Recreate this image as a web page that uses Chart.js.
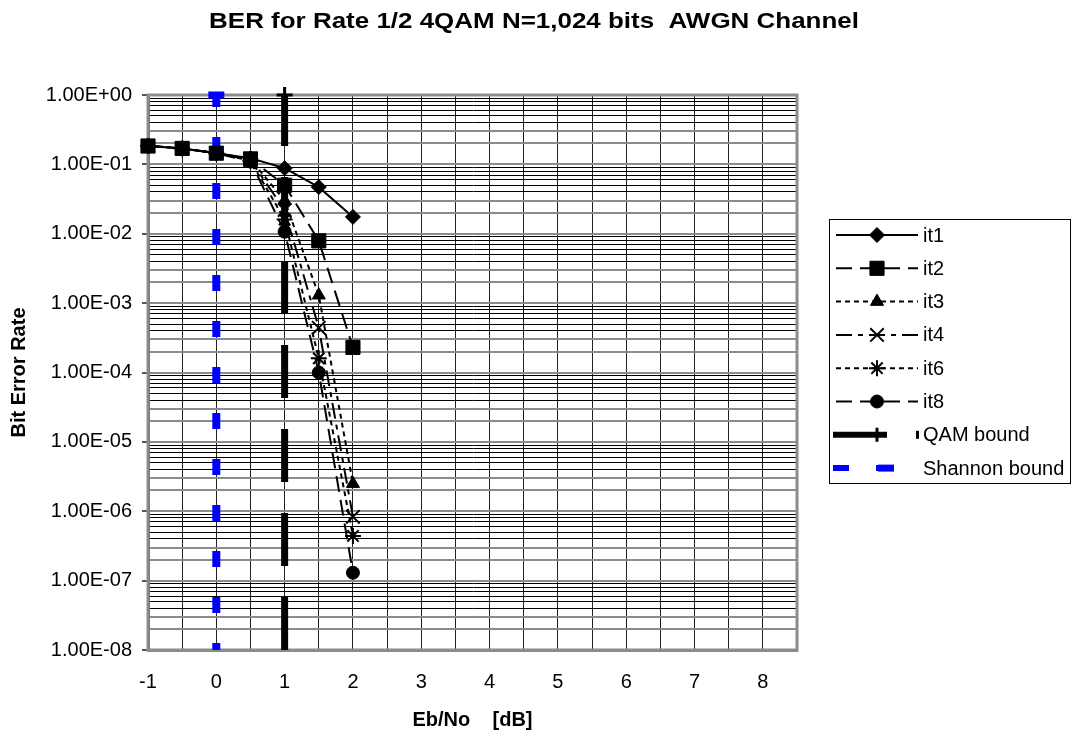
<!DOCTYPE html>
<html>
<head>
<meta charset="utf-8">
<script src="https://cdn.jsdelivr.net/npm/chart.js@4"></script>
<style>
  body { margin: 0; background: #fff; }
</style>
</head>
<body>
<canvas id="berChart" width="1072" height="732"></canvas>
<script>
// Eb/No points in dB
const ebno = [-1, -0.5, 0, 0.5, 1, 1.5, 2];

// BER per decoder iteration
const it1 = [0.184, 0.17, 0.145, 0.123, 0.088, 0.047, 0.0175];
const it2 = [0.184, 0.17, 0.145, 0.12, 0.05, 0.0079, 2.3e-4];
const it3 = [0.184, 0.17, 0.145, 0.118, 0.03, 1.3e-3, 2.5e-6];
const it4 = [0.184, 0.17, 0.145, 0.115, 0.022, 4.4e-4, 8.3e-7];
const it6 = [0.184, 0.17, 0.145, 0.113, 0.016, 1.6e-4, 4.4e-7];
const it8 = [0.184, 0.17, 0.145, 0.11, 0.0107, 1.0e-4, 1.3e-7];

// bounds (vertical lines)
const qamX = [1, 1];
const qamY = [1e-8, 1];
const shannonX = [0, 0];
const shannonY = [1e-8, 1];

// axis labels
const xTickLabels = ['-1', '0', '1', '2', '3', '4', '5', '6', '7', '8'];
const yDecades = [-8, -7, -6, -5, -4, -3, -2, -1, 0];

const TITLE = 'BER for Rate 1/2 4QAM N=1,024 bits  AWGN Channel';
const FONT = 'Arial, "Liberation Sans", sans-serif';

function pts(xs, ys) {
    return xs.map((x, i) => ({x: x, y: ys[i]}));
}

function fmtE(v) {
    const e = Math.round(Math.log10(v));
    return '1.00E' + (e < 0 ? '-' : '+') + String(Math.abs(e)).padStart(2, '0');
}

function mant(v) {
    const e = Math.floor(Math.log10(v) + 1e-9);
    return Math.round(v / Math.pow(10, e));
}

function series(label, ys, style, radius, dash) {
    return {
        label: label,
        data: pts(ebno, ys),
        showLine: true,
        borderColor: '#000',
        backgroundColor: '#000',
        borderWidth: 2,
        borderDash: dash,
        pointStyle: style,
        pointRadius: radius,
        pointBorderWidth: (style === 'crossRot' || style === 'star') ? 2 : 1,
        pointBorderColor: '#000',
        pointBackgroundColor: '#000',
        clip: false,
        order: 0
    };
}

const datasets = [
    series('it1', it1, 'rectRot', 7.5, []),
    series('it2', it2, 'rect', 10, [16, 8]),
    series('it3', it3, 'triangle', 7.5, [5, 4]),
    series('it4', it4, 'crossRot', 9.5, [16, 6, 5, 6]),
    series('it6', it6, 'star', 8, [5, 4]),
    series('it8', it8, 'circle', 6.5, [16, 8]),
    {
        label: 'QAM bound',
        data: pts(qamX, qamY),
        showLine: true,
        borderColor: '#000',
        backgroundColor: '#000',
        borderWidth: 7,
        borderDash: [53, 31],
        pointStyle: 'cross',
        pointRadius: [0, 8],
        pointBorderWidth: 3,
        pointBorderColor: '#000',
        clip: false,
        order: 1
    },
    {
        label: 'Shannon bound',
        data: pts(shannonX, shannonY),
        showLine: true,
        borderColor: '#0000ff',
        backgroundColor: '#0000ff',
        borderWidth: 8,
        borderDash: [16, 30],
        borderDashOffset: 9,
        pointStyle: 'line',
        pointRadius: [0, 8],
        pointBorderWidth: 7,
        pointBorderColor: '#0000ff',
        clip: false,
        order: 2
    }
];

// title centred on the whole picture (Excel style, a bit wide)
const wideTitle = {
    id: 'wideTitle',
    afterDraw(chart) {
        const {ctx} = chart;
        ctx.save();
        ctx.font = 'bold 22px ' + FONT;
        ctx.fillStyle = '#000';
        ctx.textAlign = 'center';
        ctx.textBaseline = 'alphabetic';
        ctx.translate(534, 28);
        ctx.scale(1.18, 1);
        ctx.fillText(TITLE, 0, 0);
        ctx.restore();
    }
};

// plot frame drawn under the data
const frame = {
    id: 'frame',
    beforeDatasetsDraw(chart) {
        const {ctx, chartArea: a} = chart;
        ctx.save();
        ctx.strokeStyle = '#8c8c8c';
        ctx.lineWidth = 3;
        ctx.strokeRect(a.left, a.top, a.right - a.left, a.bottom - a.top);
        ctx.restore();
    }
};

// legend box on the right, styled like the series
const sideLegend = {
    id: 'sideLegend',
    afterDraw(chart) {
        const {ctx} = chart;
        const boxX = 829, boxY = 219, boxW = 241, boxH = 264;
        ctx.save();
        ctx.fillStyle = '#fff';
        ctx.fillRect(boxX, boxY, boxW, boxH);
        ctx.strokeStyle = '#000';
        ctx.lineWidth = 1;
        ctx.setLineDash([]);
        ctx.strokeRect(boxX + 0.5, boxY + 0.5, boxW, boxH);

        chart.data.datasets.forEach((ds, i) => {
            const y = 235 + i * 33.3;
            const isQam = ds.label === 'QAM bound';
            const isShannon = ds.label === 'Shannon bound';
            const x0 = (isQam || isShannon) ? 833 : 836;
            const x1 = isQam ? 887 : (isShannon ? 895 : 918);
            const mx = isShannon ? 886 : 877;

            ctx.strokeStyle = ds.borderColor;
            ctx.lineWidth = (isQam || isShannon) ? 6 : ds.borderWidth;
            ctx.setLineDash(isShannon ? [16, 27] : (isQam ? [] : ds.borderDash));
            ctx.beginPath();
            ctx.moveTo(x0, y);
            ctx.lineTo(x1, y);
            ctx.stroke();
            ctx.setLineDash([]);

            const r = Array.isArray(ds.pointRadius) ? ds.pointRadius[1] : ds.pointRadius;
            ctx.fillStyle = ds.pointBackgroundColor || ds.borderColor;
            ctx.strokeStyle = ds.pointBorderColor;
            ctx.lineWidth = ds.pointBorderWidth;
            Chart.helpers.drawPoint(ctx, {
                pointStyle: ds.pointStyle,
                radius: isQam ? 7 : r,
                borderWidth: ds.pointBorderWidth,
                rotation: 0
            }, mx, y);

            if (isQam) {
                ctx.fillStyle = '#000';
                ctx.fillRect(916, y - 4, 3, 8);
            }

            ctx.fillStyle = '#000';
            ctx.font = '20px ' + FONT;
            ctx.textAlign = 'left';
            ctx.textBaseline = 'middle';
            ctx.fillText(ds.label, 923, y + 1);
        });
        ctx.restore();
    }
};

const ctx = document.getElementById('berChart');

new Chart(ctx, {
    type: 'scatter',
    data: {datasets: datasets},
    plugins: [frame, sideLegend, wideTitle],
    options: {
        responsive: false,
        animation: false,
        devicePixelRatio: 1,
        layout: {
            padding: {left: 0, right: 275, top: 95, bottom: 0}
        },
        plugins: {
            legend: {display: false},
            tooltip: {enabled: false},
            title: {display: false}
        },
        scales: {
            x: {
                type: 'linear',
                min: -1,
                max: 8.5,
                afterBuildTicks(scale) {
                    const t = [];
                    for (let v = -1; v <= 8.5 + 1e-9; v += 0.5) t.push({value: v});
                    scale.ticks = t;
                },
                afterFit(scale) { scale.height = 82; },
                ticks: {
                    autoSkip: false,
                    maxRotation: 0,
                    color: '#000',
                    font: {family: FONT, size: 20},
                    padding: 20,
                    callback(v) {
                        const idx = xTickLabels.indexOf(String(v));
                        return idx >= 0 ? xTickLabels[idx] : '';
                    }
                },
                grid: {
                    color: '#222',
                    lineWidth: 1,
                    drawTicks: false
                },
                border: {display: true, color: '#8c8c8c', width: 3},
                title: {
                    display: true,
                    text: 'Eb/No    [dB]',
                    color: '#000',
                    font: {family: FONT, size: 20, weight: 'bold', lineHeight: 1.2},
                    padding: {top: 7, bottom: 0}
                }
            },
            y: {
                type: 'logarithmic',
                min: 1e-8,
                max: 1,
                afterBuildTicks(scale) {
                    const t = [];
                    yDecades.forEach(e => {
                        const top = e === 0 ? 1 : 9;
                        for (let m = 1; m <= top; m++) {
                            t.push({value: m * Math.pow(10, e)});
                        }
                    });
                    scale.ticks = t;
                },
                afterFit(scale) { scale.width = 148; },
                ticks: {
                    autoSkip: false,
                    color: '#000',
                    font: {family: FONT, size: 20},
                    padding: 10,
                    callback(v) {
                        return mant(v) === 1 ? fmtE(v) : '';
                    }
                },
                grid: {
                    color(c) {
                        const m = mant(c.tick.value);
                        return m <= 3 ? '#8c8c8c' : '#000';
                    },
                    lineWidth(c) {
                        const m = mant(c.tick.value);
                        return m <= 3 ? 2 : 1;
                    },
                    tickColor(c) {
                        return mant(c.tick.value) === 1 ? '#555' : 'rgba(0,0,0,0)';
                    },
                    tickLength: 6
                },
                border: {display: true, color: '#666', width: 3},
                title: {
                    display: true,
                    text: 'Bit Error Rate',
                    color: '#000',
                    font: {family: FONT, size: 20, weight: 'bold', lineHeight: 1.2},
                    padding: {top: 7, bottom: 0}
                }
            }
        }
    }
});
</script>
</body>
</html>
